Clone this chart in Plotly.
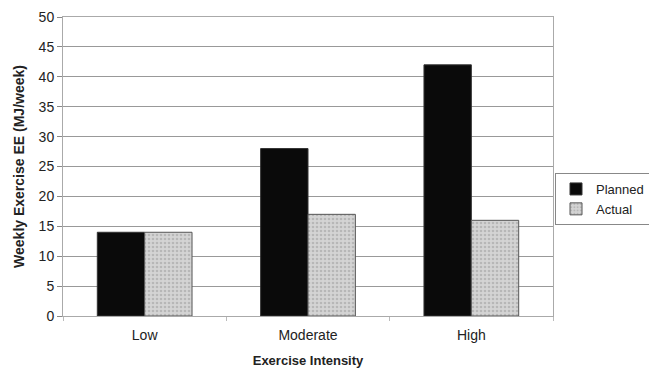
import plotly.graph_objects as go

categories = ["Low", "Moderate", "High"]
planned = [14, 28, 42]
actual = [14, 17, 16]

fig = go.Figure()
fig.add_trace(go.Bar(
    x=categories, y=planned, name="Planned",
    marker=dict(color="#0a0a0a", line=dict(color="#333333", width=1)),
))
fig.add_trace(go.Bar(
    x=categories, y=actual, name="Actual",
    marker=dict(color="#cfcfcf", line=dict(color="#555555", width=1),
                pattern=dict(shape=".", fgcolor="#9a9a9a", bgcolor="#d4d4d4", size=4, solidity=0.35)),
))

fig.update_layout(
    width=649, height=369,
    margin=dict(l=63, r=96, t=17, b=53),
    paper_bgcolor="white", plot_bgcolor="white",
    barmode="group", bargap=0.42, bargroupgap=0,
    font=dict(family="Liberation Sans, Arial", size=14, color="#222222"),
    legend=dict(xref="container", yref="container", x=555/649, y=1 - 199/369,
                xanchor="left", yanchor="middle",
                bordercolor="#888888", borderwidth=1, bgcolor="white",
                font=dict(size=13), tracegroupgap=0, itemwidth=30),
    xaxis=dict(
        title=dict(text="<b>Exercise Intensity</b>", font=dict(size=13), standoff=14),
        showline=True, linecolor="#aaaaaa", mirror=True, automargin=False,
        ticks="outside", tickson="boundaries", ticklen=4, tickcolor="#bbbbbb",
        ticklabelstandoff=6, tickfont=dict(size=14),
    ),
    yaxis=dict(
        title=dict(text="<b>Weekly Exercise EE (MJ/week)</b>", font=dict(size=14), standoff=10),
        range=[0, 50], dtick=5, automargin=False,
        showgrid=True, gridcolor="#999999", gridwidth=1,
        showline=True, linecolor="#aaaaaa", mirror=True,
        ticks="outside", ticklen=5, tickcolor="#888888",
        tickfont=dict(size=14), zeroline=False,
    ),
)

fig.write_html("out.html")
